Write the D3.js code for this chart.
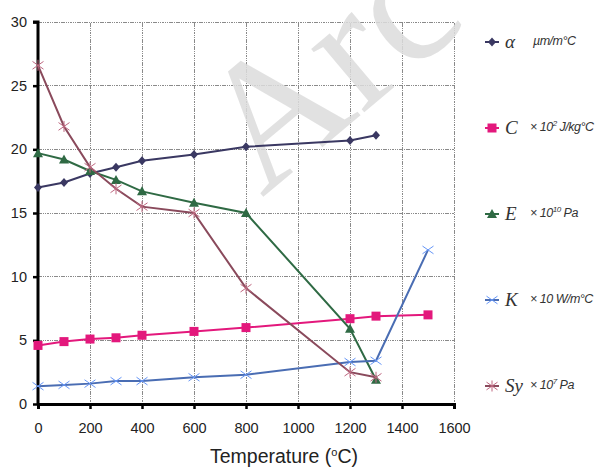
<!DOCTYPE html>
<html>
<head>
<meta charset="utf-8">
<script src="https://cdn.jsdelivr.net/npm/d3@7"></script>
<style>
  body { margin: 0; background: #fff; }
  svg { display: block; }
</style>
</head>
<body>
<div id="chart"></div>
<script>
// data
const temps  = [0, 100, 200, 300, 400, 600, 800, 1200, 1300];
const temps2 = [0, 100, 200, 300, 400, 600, 800, 1200, 1300, 1500];
const alpha = [17.0, 17.4, 18.1, 18.6, 19.1, 19.6, 20.2, 20.7, 21.1];
const cheat = [4.6, 4.9, 5.1, 5.2, 5.4, 5.7, 6.0, 6.7, 6.9, 7.0];
const young = [19.7, 19.2, 18.3, 17.6, 16.7, 15.8, 15.0, 5.9, 1.9];
const kcond = [1.4, 1.5, 1.6, 1.8, 1.8, 2.1, 2.3, 3.3, 3.4, 12.1];
const syld  = [26.6, 21.8, 18.6, 16.9, 15.5, 15.0, 9.1, 2.5, 2.1];
const xTicks = [0, 200, 400, 600, 800, 1000, 1200, 1400, 1600];
const yTicks = [0, 5, 10, 15, 20, 25, 30];

// unit labels: [text, superscript, text]
const series = [
  { key: 'α',  unit: ['µm/m', '', '°C'],       xs: temps,  ys: alpha, color: '#3a3862', mark: 'diamond' },
  { key: 'C',  unit: ['× 10', '2', ' J/kg°C'], xs: temps2, ys: cheat, color: '#e3187c', mark: 'square' },
  { key: 'E',  unit: ['× 10', '10', ' Pa'],    xs: temps,  ys: young, color: '#2f6a44', mark: 'triangle' },
  { key: 'K',  unit: ['× 10 W/m', '', '°C'],   xs: temps2, ys: kcond, color: '#4a6db3', mark: 'x' },
  { key: 'Sy', unit: ['× 10', '7', ' Pa'],     xs: temps,  ys: syld,  color: '#8a4a5c', mark: 'star' }
];

const W = 612, H = 470;
const m = { left: 38, right: 158, top: 22, bottom: 66 };
const pw = W - m.left - m.right, ph = H - m.top - m.bottom;

const svg = d3.select('#chart').append('svg').attr('width', W).attr('height', H);

const x = d3.scaleLinear().domain([0, 1600]).range([m.left, m.left + pw]);
const y = d3.scaleLinear().domain([0, 30]).range([m.top + ph, m.top]);

// grid
const grid = svg.append('g').attr('stroke', '#8a8a8a').attr('stroke-width', 1)
  .attr('stroke-dasharray', '1.5,0.8').attr('shape-rendering', 'crispEdges');
xTicks.slice(1).forEach(t => grid.append('line')
  .attr('x1', x(t)).attr('x2', x(t)).attr('y1', y(0)).attr('y2', y(30)));
yTicks.slice(1).forEach(t => grid.append('line')
  .attr('x1', x(0)).attr('x2', x(1600)).attr('y1', y(t)).attr('y2', y(t)));

// watermark (cut at the top edge, as in the source image)
svg.append('text')
  .attr('transform', `translate(262,198) rotate(-40)`)
  .attr('font-family', 'Liberation Serif, serif').attr('font-size', 180)
  .attr('fill', '#dcdcdc').attr('fill-opacity', 0.85)
  .text('Arc');

// axes
const xAxis = svg.append('g').attr('transform', `translate(0,${y(0)})`)
  .call(d3.axisBottom(x).tickValues(xTicks).tickSize(5).tickPadding(14).tickFormat(d3.format('d')));
const yAxis = svg.append('g').attr('transform', `translate(${x(0)},0)`)
  .call(d3.axisLeft(y).tickValues(yTicks).tickSize(5).tickPadding(6));
[xAxis, yAxis].forEach(a => {
  a.select('.domain').attr('stroke', '#000').attr('stroke-width', 3);
  a.selectAll('.tick line').attr('stroke', '#000').attr('stroke-width', 2.5);
  a.selectAll('.tick text').attr('fill', '#222')
    .attr('font-family', 'Liberation Sans, Arial, sans-serif').attr('font-size', 14.5);
});
yAxis.select('.domain').attr('d', `M-5,${y(30)}H0V${y(0)}`);

svg.append('text')
  .attr('x', 284).attr('y', 463).attr('text-anchor', 'middle')
  .attr('font-family', 'Liberation Sans, Arial, sans-serif').attr('font-size', 19.5).attr('fill', '#222')
  .html('Temperature (<tspan dy="-7" font-size="11">o</tspan><tspan dy="7">C)</tspan>');

function marker(g, type, color, cx, cy) {
  if (type === 'diamond') {
    g.append('path').attr('d', `M${cx},${cy-4.5}L${cx+4},${cy}L${cx},${cy+4.5}L${cx-4},${cy}Z`).attr('fill', color);
  } else if (type === 'square') {
    g.append('rect').attr('x', cx-4.5).attr('y', cy-4.5).attr('width', 9).attr('height', 9).attr('fill', color);
  } else if (type === 'triangle') {
    g.append('path').attr('d', `M${cx},${cy-5}L${cx+5},${cy+4}L${cx-5},${cy+4}Z`).attr('fill', color);
  } else if (type === 'x' || type === 'star') {
    const c = d3.color(color).brighter(0.9);
    const s = 5.5;
    g.append('path').attr('d', `M${cx-s},${cy-s*0.7}L${cx+s},${cy+s*0.7}M${cx-s},${cy+s*0.7}L${cx+s},${cy-s*0.7}` +
      (type === 'star' ? `M${cx},${cy-s}V${cy+s}` : ''))
      .attr('stroke', c).attr('stroke-width', 1).attr('fill', 'none');
  }
}

const line = d3.line().x(d => x(d[0])).y(d => y(d[1]));
series.forEach(s => {
  const pts = s.xs.map((t, i) => [t, s.ys[i]]);
  svg.append('path').datum(pts).attr('d', line)
    .attr('fill', 'none').attr('stroke', s.color).attr('stroke-width', 2);
  const g = svg.append('g');
  pts.forEach(p => marker(g, s.mark, s.color, x(p[0]), y(p[1])));
});

// legend
const legY = d3.scalePoint().domain(series.map(s => s.key)).range([42, 386]);
series.forEach(s => {
  const g = svg.append('g').attr('transform', `translate(0,${legY(s.key)})`);
  g.append('line').attr('x1', 485).attr('x2', 499).attr('stroke', s.color).attr('stroke-width', 2);
  marker(g, s.mark, s.color, 492, 0);
  g.append('text').attr('x', 505).attr('y', 6)
    .attr('font-family', 'Liberation Serif, serif').attr('font-style', 'italic').attr('font-size', 19)
    .attr('fill', '#333').text(s.key);
  const t = g.append('text').attr('x', s.key === 'α' ? 533 : 530).attr('y', 3)
    .attr('font-family', 'Liberation Sans, Arial, sans-serif').attr('font-style', 'italic').attr('font-size', 12.5)
    .attr('letter-spacing', -0.5).attr('fill', '#333');
  t.append('tspan').text(s.unit[0]);
  if (s.unit[1]) t.append('tspan').attr('dy', -5).attr('font-size', 8).text(s.unit[1]);
  t.append('tspan').attr('dy', s.unit[1] ? 5 : 0).text(s.unit[2]);
});
</script>
</body>
</html>
